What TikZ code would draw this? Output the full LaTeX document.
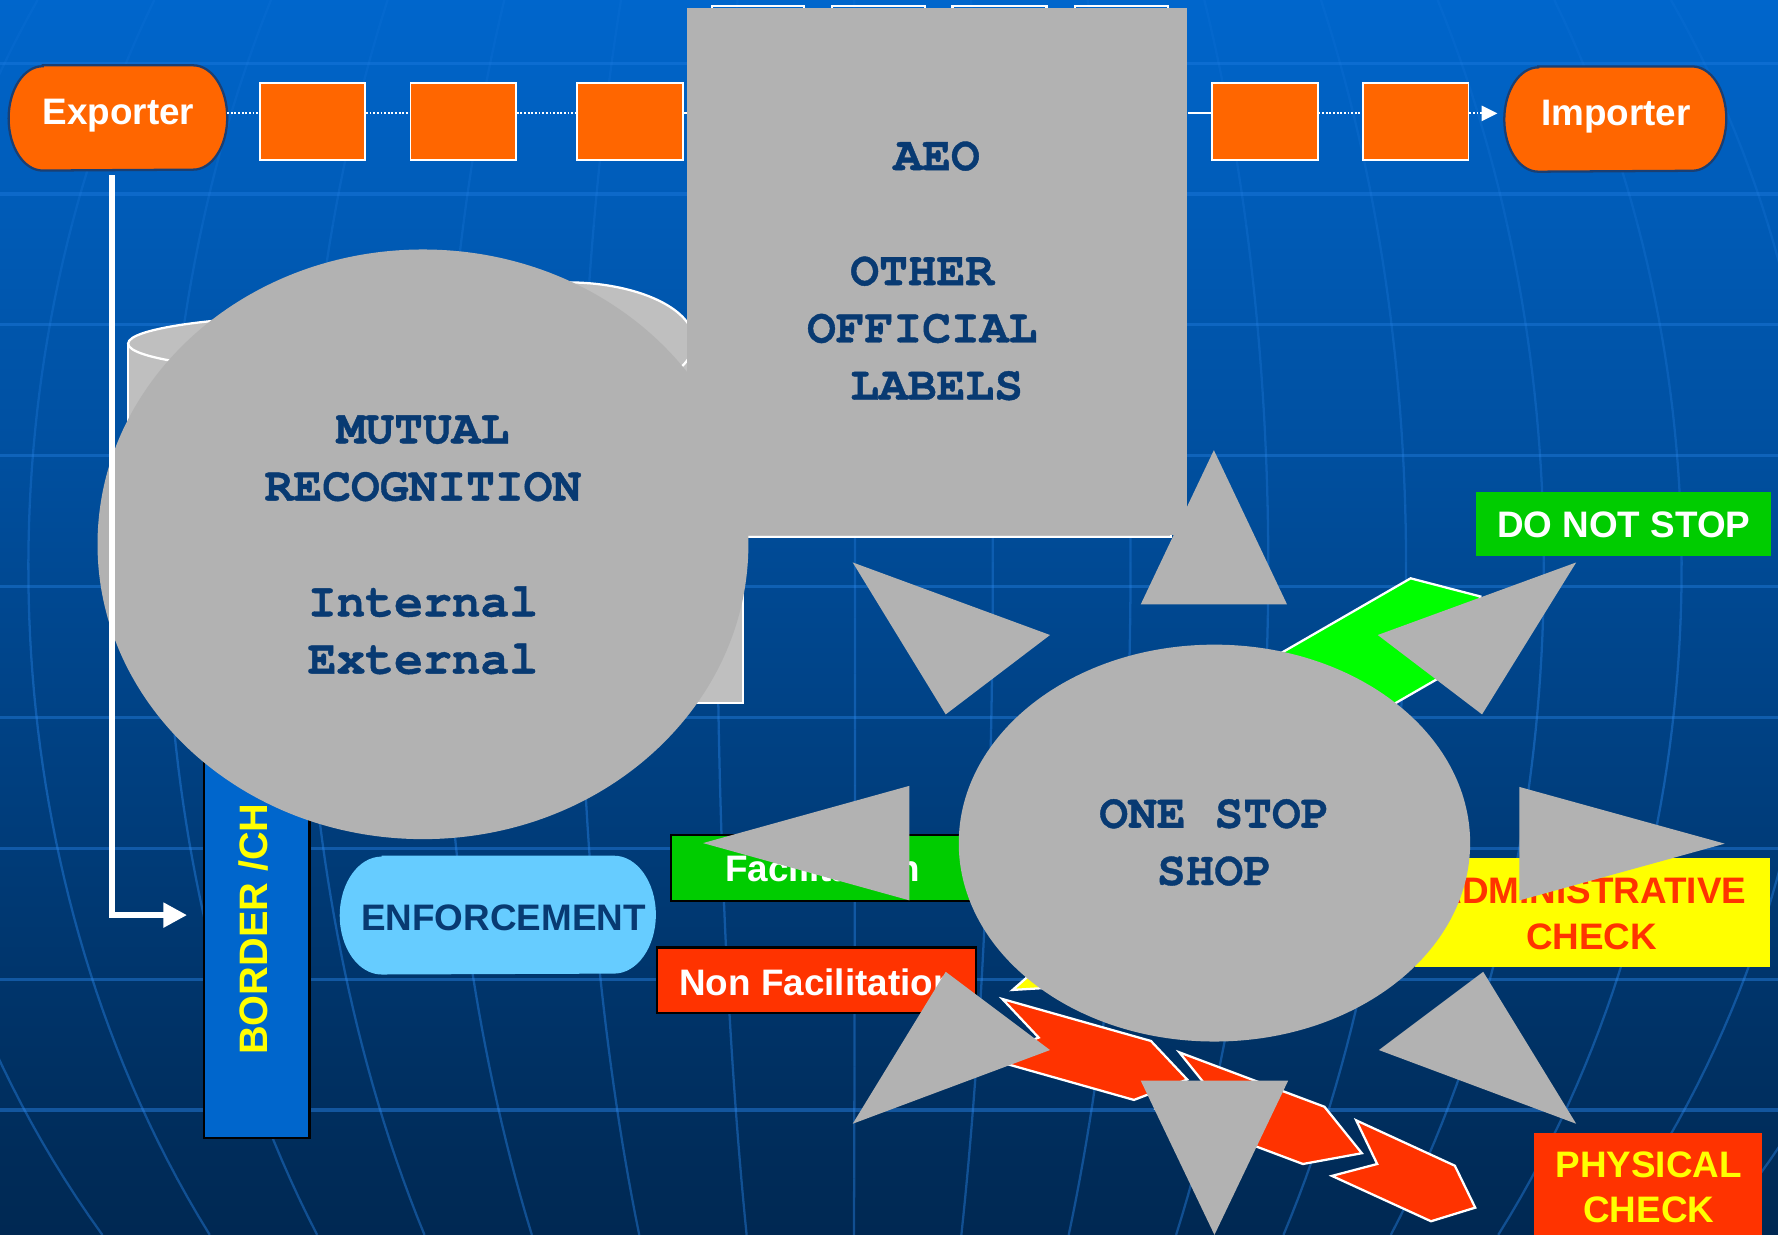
\documentclass[tikz,border=0pt]{standalone}
\usepackage{fontspec}
\setmainfont{Liberation Sans}
\newfontfamily\cour[BoldFeatures={FakeBold=0.8}]{TeX Gyre Cursor}
\usetikzlibrary{arrows.meta,shapes.geometric}
\definecolor{orng}{HTML}{FF6600}
\definecolor{gry}{HTML}{B2B2B2}
\definecolor{lgry}{HTML}{BFBFBF}
\definecolor{navy}{HTML}{083A72}
\definecolor{pilledge}{HTML}{1A3F73}
\definecolor{skyb}{HTML}{66CCFF}
\definecolor{grn}{HTML}{00CC00}
\definecolor{lime}{HTML}{00FF00}
\definecolor{redo}{HTML}{FF3300}
\definecolor{yel}{HTML}{FFFF00}
\definecolor{barb}{HTML}{0066CC}
\definecolor{bgtop}{HTML}{0066CC}
\definecolor{bgbot}{HTML}{002852}
\definecolor{gridc}{HTML}{2C8AF0}
\begin{document}
\begin{tikzpicture}[x=0.5pt,y=-0.5pt,
  pillfill/.style={fill=orng, draw=pilledge, line width=1pt},
  obox/.style={rectangle, fill=orng, draw=white, line width=0.8pt, minimum width=46.5pt, minimum height=34pt, inner sep=0pt},
  plainbox/.style={rectangle, inner sep=0pt},
  tsans/.style={font=\fontsize{16.25pt}{19.5pt}\selectfont\bfseries, inner sep=0pt, anchor=base},
  tmono/.style={font=\cour\fontsize{21.15pt}{25pt}\selectfont\bfseries, text=navy, inner sep=0pt, anchor=base},
  dotc/.style={draw=white, line width=0.8pt, dash pattern=on 0.8pt off 0.8pt},
  solc/.style={draw=white, line width=0.8pt},
  feed/.style={draw=white, line width=2.75pt, -{Triangle[length=10.5pt,width=10.5pt]}},
  gridh/.style={draw=gridc, line width=1.4pt},
  meri/.style={draw=gridc, line width=1pt},
  cyl/.style={fill=lgry, draw=white, line width=1pt},
  chev/.style={draw=white, line width=1pt, line join=miter},
  sunray/.style={fill=gry}
]
\useasboundingbox (0,0) rectangle (1568,1089);
\clip (0,0) rectangle (1568,1089);
% background
\shade[top color=bgtop, bottom color=bgbot] (0,0) rectangle (1568,1089);
\foreach \k in {0,...,8} {
  \pgfmathsetmacro\op{0.28+0.02*\k}
  \draw[gridh, opacity=\op] (0,{55.7+115.4*\k}) -- (1568,{55.7+115.4*\k});
}
\foreach \mA in {-846.5,-725,-603.5,-482,-360.5,-239,-117.5,4,125.5,247,368.5,490,611.5,733,854.5,976} {
  \foreach \j in {0,...,21} {
    \pgfmathsetmacro\ja{\j*49.5}
    \pgfmathsetmacro\jb{(\j+1)*49.5}
    \pgfmathsetmacro\op{0.1+0.3*min(1,\ja/650)}
    \draw[meri, opacity=\op, variable=\t, domain=\ja:\jb, samples=4] plot ({750+\mA*sqrt(1-((\t-500)/940)^2)}, \t);
  }
}

% tops of boxes hidden behind the grey panel
\foreach \a/\b in {628/709, 734/816, 840/923, 948/1030} \draw[white, line width=1pt] (\a,5) rectangle (\b,80);

% chain
\node[plainbox, minimum width=96pt, minimum height=46pt] (exp) at (104,104) {};
\path[pillfill] ([xshift=15pt]exp.north west) -- ([xshift=-15pt]exp.north east)
  arc[start angle=90, end angle=-90, x radius=15pt, y radius=23pt] -- ([xshift=15pt]exp.south west)
  arc[start angle=270, end angle=90, x radius=15pt, y radius=23pt] -- cycle;
\node[tsans, text=white] (expT) at (104.5,110) {Exporter};
\node[plainbox, minimum width=97.5pt, minimum height=46pt] (imp) at (1424.5,105) {};
\path[pillfill] ([xshift=15pt]imp.north west) -- ([xshift=-15pt]imp.north east)
  arc[start angle=90, end angle=-90, x radius=15pt, y radius=23pt] -- ([xshift=15pt]imp.south west)
  arc[start angle=270, end angle=90, x radius=15pt, y radius=23pt] -- cycle;
\node[tsans, text=white] (impT) at (1425,111) {Importer};
\node[obox] (b1) at (275.5,107) {};
\node[obox] (b2) at (408.5,107) {};
\node[obox] (b3) at (555.5,107) {};
\node[obox] (b4) at (1115.5,107) {};
\node[obox] (b5) at (1248.5,107) {};

% cylinders and panels behind
\fill[lgry] (300,520) ellipse[x radius=187, y radius=25];
\fill[lgry] (113,303) rectangle (487,520);
\draw[white, line width=1pt] (113,303) -- (113,520) (487,303) -- (487,520);
\filldraw[cyl] (300,303) ellipse[x radius=187, y radius=25];
\fill[lgry] (500,472) ellipse[x radius=112, y radius=52];
\fill[lgry] (388,301) rectangle (612,472);
\draw[white, line width=1pt] (388,301) -- (388,472) (612,301) -- (612,472);
\filldraw[cyl] (500,301) ellipse[x radius=112, y radius=52];
\filldraw[cyl] (500,473) rectangle (655,620);
\filldraw[cyl] (640,300) rectangle (1033,473.5);

% border bar
\node[plainbox, fill=barb, draw=black, line width=1pt, minimum width=46.5pt, minimum height=336.75pt] (bar) at (226.5,666.75) {};
\node[tsans, font=\fontsize{17.5pt}{20pt}\selectfont\bfseries, text=yel, rotate=90, anchor=base west] (barT) at (235.5,930.6) {BORDER /CH};

% mutual recognition
\node[ellipse, fill=gry, minimum width=287pt, minimum height=260pt, inner sep=0pt] (mr) at (373,480) {};
\node[tmono] (mr1) at (373,391) {MUTUAL};
\node[tmono] (mr2) at (373,441.5) {RECOGNITION};
\node[tmono] (mr3) at (373,543.5) {Internal};
\node[tmono] (mr4) at (373,594) {External};

% AEO panel
\node[plainbox, fill=gry, minimum width=220.5pt, minimum height=232.5pt] (aeo) at (826.5,239.5) {};
\node[tmono] (aeo1) at (826,150) {AEO};
\node[tmono] (aeo2) at (813.3,251.5) {OTHER};
\node[tmono] (aeo3) at (813.3,302) {OFFICIAL};
\node[tmono] (aeo4) at (826,352.5) {LABELS};

% connectors
\draw[dotc] ([yshift=2pt]exp.east) -- ([yshift=3.5pt]b1.west);
\draw[dotc] ([yshift=3.5pt]b1.east) -- ([yshift=3.5pt]b2.west);
\draw[dotc] ([yshift=3.5pt]b2.east) -- ([yshift=3.5pt]b3.west);
\draw[solc] ([yshift=3.5pt]b3.east) -- (aeo.west |- 0,100);
\draw[solc] (aeo.east |- 0,100) -- ([yshift=3.5pt]b4.west);
\draw[dotc] ([yshift=3.5pt]b4.east) -- ([yshift=3.5pt]b5.west);
\draw[dotc, -{Triangle[length=7pt,width=6.75pt]}, shorten >=3pt] ([yshift=3.5pt]b5.east) -- ([yshift=2.5pt]imp.west);
\draw[feed, shorten >=7pt] ([xshift=-2.5pt,yshift=-2pt]exp.south) |- (bar.west |- 0,807);

% lower boxes
\node[plainbox, minimum width=139pt, minimum height=52pt] (enf) at (439,807) {};
\fill[skyb] ([xshift=18.5pt]enf.north west) -- ([xshift=-18.5pt]enf.north east)
  arc[start angle=90, end angle=-90, x radius=18.5pt, y radius=26pt] -- ([xshift=18.5pt]enf.south west)
  arc[start angle=270, end angle=90, x radius=18.5pt, y radius=26pt] -- cycle;
\node[tsans, text=navy] (enfT) at (444,820.6) {ENFORCEMENT};
\node[plainbox, fill=grn, draw=black, line width=1pt, minimum width=133.5pt, minimum height=29pt] (fac) at (725.5,765.5) {};
\node[tsans, text=white] (facT) at (725.5,777.5) {Facilitation};
\node[plainbox, fill=redo, draw=black, line width=1pt, minimum width=140.75pt, minimum height=29pt] (nfac) at (720.25,864.5) {};
\node[tsans, text=white] (nfacT) at (721,877.5) {Non Facilitation};
\node[plainbox, fill=grn, minimum width=130.2pt, minimum height=28pt] (dns) at (1431.8,462) {};
\node[tsans, text=white] (dnsT) at (1432,473.8) {DO NOT STOP};
\node[plainbox, fill=yel, minimum width=156.5pt, minimum height=47.75pt] (adm) at (1404.5,804.75) {};
\node[tsans, text=redo] (admT1) at (1403,797) {ADMINISTRATIVE};
\node[tsans, text=redo] (admT2) at (1403.7,837) {CHECK};
\node[plainbox, fill=redo, minimum width=100.75pt, minimum height=50.5pt] (phy) at (1453.25,1049.5) {};
\node[tsans, text=yel] (phyT1) at (1454,1038.5) {PHYSICAL};
\node[tsans, text=yel] (phyT2) at (1454,1078) {CHECK};

% chevrons
\filldraw[chev, fill=lime] (1088,600) -- (1244,510) -- (1305.5,526) -- (1288,587) -- (1132,677) -- (1149.5,616) -- cycle;
\filldraw[chev, fill=yel] (896,820) -- (1096,808) -- (1126,832) -- (1093,861) -- (893,873) -- (925.5,844.5) -- cycle;
\filldraw[chev, fill=redo] (884,881) -- (1015,918) -- (1047,952) -- (1000,970) -- (869,933) -- (916,915) -- cycle;
\filldraw[chev, fill=redo] (1040,928) -- (1168,976) -- (1201,1017) -- (1149,1026.5) -- (1021,978.5) -- (1073,969) -- cycle;
\filldraw[chev, fill=redo] (1196,988) -- (1283,1028) -- (1301,1065) -- (1262,1077) -- (1174.6,1037) -- (1214.5,1026.5) -- cycle;

% one stop shop
\node[ellipse, fill=gry, minimum width=225.5pt, minimum height=175pt, inner sep=0pt] (oss) at (1071,743.5) {};
\node[tmono] (oss1) at (1071,730) {ONE STOP};
\node[tmono] (oss2) at (1071,780.5) {SHOP};

% sun rays
\fill[sunray] (1006,533) -- (1135,533) -- (1070.5,397) -- cycle;
\fill[sunray] (752,496) -- (926,560) -- (834,630) -- cycle;
\fill[sunray] (1390,496) -- (1215,560) -- (1307,630) -- cycle;
\fill[sunray] (620,743.5) -- (802,693) -- (802,794) -- cycle;
\fill[sunray] (1521,744) -- (1340,694) -- (1340,794) -- cycle;
\fill[sunray] (752,991) -- (834,857) -- (926,926) -- cycle;
\fill[sunray] (1390,991) -- (1308,857) -- (1216,926) -- cycle;
\fill[sunray] (1006,953) -- (1136,953) -- (1071,1089) -- cycle;
\end{tikzpicture}
\end{document}
